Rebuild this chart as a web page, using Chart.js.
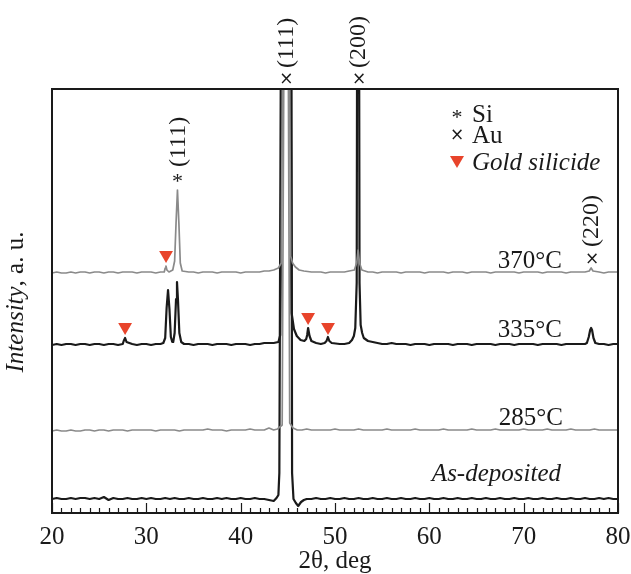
<!DOCTYPE html>
<html>
<head>
<meta charset="utf-8">
<script src="https://cdn.jsdelivr.net/npm/chart.js@4"></script>
<style>
  html, body { margin: 0; padding: 0; background: #fff; }
  canvas { display: block; }
</style>
</head>
<body>
<canvas id="xrdChart" width="631" height="574"></canvas>
<script>
// 2θ axis ticks
const xTicks = [20, 30, 40, 50, 60, 70, 80];

// As-deposited (black, bottom trace)
const angAsDep = [20,20.5,21,21.5,22,22.5,23,23.5,24,24.5,25,25.5,26,26.5,27,27.5,28,28.5,29,29.5,30,30.5,31,31.5,32,32.5,33,33.5,34,34.5,35,35.5,36,36.5,37,37.5,38,38.5,39,39.5,40,40.5,41,41.5,42,42.5,43,43.5,
  43.8,44.0,44.1,44.35,45.35,45.45,45.6,45.85,46.1,46.4,46.7,
  47,47.5,48,48.5,49,49.5,50,50.5,51,51.5,52,52.5,53,53.5,54,54.5,55,55.5,56,56.5,57,57.5,58,58.5,59,59.5,60,60.5,61,61.5,62,62.5,63,63.5,64,64.5,65,65.5,66,66.5,67,67.5,68,68.5,69,69.5,70,70.5,71,71.5,72,72.5,73,73.5,74,74.5,75,75.5,76,76.5,77,77.5,78,78.5,79,79.5,80];
const intAsDep = [14,15,14,14,15,14,15,15,14,15, 14,16,13,15,14,14,15,14,14,15, 14,15,14,14,15,14,15,14,14,15, 14,14,15,14,14,15,14,15,14,14, 15,14,14,15,14,14,13,12,
  15,18,40,700,700,40,14,10,7,11,13,
  14,14,15,14,14,15,14,14,15,14, 14,15,14,14,15,14,14,15,14,14, 15,14,14,15,14,14,15,14,14,15, 14,14,15,14,14,15,14,14,15,14, 14,15,14,14,15,14,14,15,14,14, 15,14,14,15,14,14,15,14,14,15, 14,14,15,14,15,14,14];

// 285°C (gray)
const ang285 = [20,20.5,21,21.5,22,22.5,23,23.5,24,24.5,25,25.5,26,26.5,27,27.5,28,28.5,29,29.5,30,30.5,31,31.5,32,32.5,33,33.5,34,34.5,35,35.5,36,36.5,37,37.5,38,38.5,39,39.5,40,40.5,41,41.5,42,42.5,43,43.5,
  43.9,44.4,44.7,44.95,45.2,45.55,46,
  46.5,47,47.5,48,48.5,49,49.5,50,50.5,51,51.5,52,52.5,53,53.5,54,54.5,55,55.5,56,56.5,57,57.5,58,58.5,59,59.5,60,60.5,61,61.5,62,62.5,63,63.5,64,64.5,65,65.5,66,66.5,67,67.5,68,68.5,69,69.5,70,70.5,71,71.5,72,72.5,73,73.5,74,74.5,75,75.5,76,76.5,77,77.5,78,78.5,79,79.5,80];
const int285 = [82,83,82,82,83,82,82,83,83,82, 83,83,82,83,83,83,82,83,83,83, 83,83,82,83,83,83,83,82,83,83, 83,83,83,84,83,83,83,82,83,83, 83,83,84,83,83,83,85,83,
  84,88,700,700,90,85,83,
  83,84,83,83,83,83,83,84,83,83, 83,83,84,83,83,83,83,83,84,83, 83,83,83,83,84,83,83,83,83,83, 84,83,83,83,83,83,84,83,83,83, 83,84,83,83,83,83,83,84,83,83, 83,83,84,83,83,83,83,84,83,83, 83,83,84,83,83,83,83,83];

// 335°C (black)
const ang335 = [20,20.5,21,21.5,22,22.5,23,23.5,24,24.5,25,25.5,26,26.5,27,27.5,
  27.6,27.75,27.9,
  28.5,29,29.5,30,30.5,31,31.5,
  31.8,32.0,32.15,32.3,32.45,32.6,32.75,32.85,33.0,33.15,33.25,33.35,33.5,33.7,
  34,34.5,35,35.5,36,36.5,37,37.5,38,38.5,39,39.5,40,40.5,41,41.5,42,42.5,43,43.5,
  44.0,44.2,44.5,45.2,45.4,45.65,45.95,46.35,46.75,
  46.95,47.05,47.15,47.3,47.5,
  48,48.5,
  48.9,49.1,49.25,49.4,49.65,
  50.5,51,51.5,
  51.8,52.0,52.15,52.3,52.38,52.52,52.6,52.72,52.88,53.05,
  53.5,54,54.5,55,55.5,56,56.5,57,57.5,58,58.5,59,59.5,60,60.5,61,61.5,62,62.5,63,63.5,64,64.5,65,65.5,66,66.5,67,67.5,68,68.5,69,69.5,70,70.5,71,71.5,72,72.5,73,73.5,74,74.5,75,75.5,76,76.5,
  76.7,76.9,77.05,77.15,77.25,77.4,77.6,
  78,78.5,79,79.5,80];
const int335 = [168,169,168,169,169,168,169,169,168,169,169,168,169,169,168,169,
  172,175,171,
  169,168,169,169,168,169,169,
  170,175,205,223,204,176,171,171,180,214,231,214,180,171,
  169,169,168,169,169,169,168,169,169,169,168,169,169,169,168,169,169,170,170,170,
  171,178,700,700,200,184,177,173,172,
  174,178,185,177,172,
  170,169,
  170,172,176,172,170,
  169,169,170,
  173,177,185,230,700,700,230,188,180,175,
  172,171,170,169,169,170,169,169,169,168, 169,169,169,168,169,169,169,169,168,169, 169,169,168,169,169,169,169,168,169,169, 169,168,169,169,169,169,168,169,169,169, 169,168,169,169,169,169,169,
  170,176,183,185,183,175,170,
  169,169,168,169,169];

// 370°C (gray, top trace)
const ang370 = [20,20.5,21,21.5,22,22.5,23,23.5,24,24.5,25,25.5,26,26.5,27,27.5,28,28.5,29,29.5,30,30.5,31,31.5,
  31.9,32.0,32.08,32.18,32.4,
  32.8,33.0,33.15,33.3,33.45,33.6,33.8,
  34.5,35,35.5,36,36.5,37,37.5,38,38.5,39,39.5,40,40.5,41,41.5,42,42.5,
  43.0,43.5,44.0,44.3,44.6,45.05,45.3,45.5,45.8,46.2,46.7,
  47.5,48,48.5,49,49.5,50,50.5,51,51.5,
  52.05,52.3,52.45,52.6,52.85,
  53.5,54,54.5,55,55.5,56,56.5,57,57.5,58,58.5,59,59.5,60,60.5,61,61.5,62,62.5,63,63.5,64,64.5,65,65.5,66,66.5,67,67.5,68,68.5,69,69.5,70,70.5,71,71.5,72,72.5,73,73.5,74,74.5,75,75.5,76,76.5,
  76.95,77.15,77.35,
  78,78.5,79,79.5,80];
const int370 = [240,241,240,240,241,240,241,241,240,241, 241,240,241,241,240,241,241,241,240,241, 241,241,240,241,
  241,245,247,243,241,
  243,252,290,323,290,250,242,
  241,241,240,241,241,241,240,241,241,241,241,240,241,241,241,241,242,
  242,243,245,250,700,700,257,250,246,243,242,
  241,241,241,240,241,241,241,241,242,
  243,250,263,250,243,
  241,241,240,241,241,241,241,240,241,241, 241,241,240,241,241,241,241,240,241,241, 241,240,241,241,241,241,240,241,241,241, 241,241,240,241,241,241,241,240,241,241, 241,241,240,241,241,241,241,
  242,245,242,
  241,240,241,241,241];

// gold silicide markers (▼)
const silicideAngles = [32.09, 27.75, 47.15, 49.26];
const silicideLevels = [258, 186, 196, 186];

// peak labels
const peakAngles = [44.75, 52.45, 33.3, 77.14];
const peakTexts = ['(111)', '(200)', '(111)', '(220)'];
const peakSymbols = ['×', '×', '*', '×'];

// trace labels
const traceNames = ['370°C', '335°C', '285°C', 'As-deposited'];

const SERIF = '"Liberation Serif", "Times New Roman", serif';
const INK = '#1a1a1a';
const GRAY = '#8a8a8a';
const RED = '#e8442b';

function toPoints(xs, ys) {
    return xs.map((x, i) => ({ x: x, y: ys[i] }));
}

function lineSet(label, xs, ys, color, width) {
    return {
        label: label,
        data: toPoints(xs, ys),
        borderColor: color,
        borderWidth: width,
        pointRadius: 0,
        tension: 0,
        fill: false,
        borderJoinStyle: 'round'
    };
}

function rotatedText(ctx, text, px, yBottom) {
    ctx.save();
    ctx.translate(px, yBottom);
    ctx.rotate(-Math.PI / 2);
    ctx.textAlign = 'left';
    ctx.textBaseline = 'middle';
    ctx.fillText(text, 0, 0);
    ctx.restore();
}

const overlay = {
    id: 'overlay',
    afterDraw(chart) {
        const ctx = chart.ctx;
        const a = chart.chartArea;
        const x = chart.scales.x;
        ctx.save();

        // frame
        ctx.strokeStyle = INK;
        ctx.lineWidth = 2;
        ctx.strokeRect(a.left, a.top, a.right - a.left, a.bottom - a.top);

        // inward ticks, major every 10, minor every 1
        ctx.lineWidth = 1.2;
        for (let v = xTicks[0]; v <= xTicks[xTicks.length - 1]; v++) {
            const px = Math.round(x.getPixelForValue(v)) + 0.5;
            const len = xTicks.includes(v) ? 10 : 5;
            ctx.beginPath();
            ctx.moveTo(px, a.bottom);
            ctx.lineTo(px, a.bottom - len);
            ctx.stroke();
        }

        ctx.fillStyle = INK;

        // x title
        ctx.textAlign = 'center';
        ctx.textBaseline = 'middle';
        ctx.font = '25px ' + SERIF;
        ctx.fillText('2θ, deg', (a.left + a.right) / 2, 561);

        // peak labels
        const labelBottoms = [68, 68, 167, 247];
        const symbolYs = [80, 80, 182, 260];
        ctx.font = '24px ' + SERIF;
        peakAngles.forEach((ang, i) => {
            const px = x.getPixelForValue(ang);
            rotatedText(ctx, peakTexts[i], px + 1, labelBottoms[i]);
            ctx.textAlign = 'center';
            ctx.textBaseline = 'middle';
            if (peakSymbols[i] === '*') {
                ctx.font = '22px ' + SERIF;
                ctx.fillText('*', px, symbolYs[i]);
            } else {
                ctx.font = '17px "DejaVu Sans", sans-serif';
                ctx.fillText('×', px + 1, symbolYs[i]);
            }
            ctx.font = '24px ' + SERIF;
        });

        // trace labels
        ctx.textAlign = 'right';
        ctx.textBaseline = 'alphabetic';
        ctx.font = '25px ' + SERIF;
        ctx.fillText(traceNames[0], 562, 268);
        ctx.fillText(traceNames[1], 562, 337);
        ctx.fillText(traceNames[2], 563, 425);
        ctx.font = 'italic 25px ' + SERIF;
        ctx.fillText(traceNames[3], 561, 481);

        // legend
        ctx.textAlign = 'left';
        ctx.font = '25px ' + SERIF;
        ctx.fillText('Si', 472, 122);
        ctx.fillText('Au', 472, 143);
        ctx.font = 'italic 25px ' + SERIF;
        ctx.fillText('Gold silicide', 472, 170);
        ctx.textAlign = 'center';
        ctx.textBaseline = 'middle';
        ctx.font = '22px ' + SERIF;
        ctx.fillText('*', 457, 118);
        ctx.font = '17px "DejaVu Sans", sans-serif';
        ctx.fillText('×', 457, 136);
        ctx.fillStyle = RED;
        ctx.beginPath();
        ctx.moveTo(450, 156);
        ctx.lineTo(464, 156);
        ctx.lineTo(457, 168);
        ctx.closePath();
        ctx.fill();

        // y title: "Intensity" italic + ", a. u."
        ctx.fillStyle = INK;
        ctx.save();
        ctx.translate(16, 302);
        ctx.rotate(-Math.PI / 2);
        ctx.textBaseline = 'middle';
        ctx.textAlign = 'left';
        ctx.font = 'italic 25px ' + SERIF;
        const w1 = ctx.measureText('Intensity').width;
        ctx.font = '25px ' + SERIF;
        const w2 = ctx.measureText(', a. u.').width;
        const start = -(w1 + w2) / 2;
        ctx.font = 'italic 25px ' + SERIF;
        ctx.fillText('Intensity', start, 0);
        ctx.font = '25px ' + SERIF;
        ctx.fillText(', a. u.', start + w1, 0);
        ctx.restore();

        ctx.restore();
    }
};

new Chart(document.getElementById('xrdChart'), {
    type: 'line',
    data: {
        datasets: [
            lineSet(traceNames[0], ang370, int370, GRAY, 1.7),
            lineSet(traceNames[2], ang285, int285, GRAY, 1.7),
            lineSet(traceNames[1], ang335, int335, INK, 2.2),
            lineSet(traceNames[3], angAsDep, intAsDep, INK, 2.2),
            {
                type: 'scatter',
                label: 'Gold silicide',
                data: toPoints(silicideAngles, silicideLevels),
                pointStyle: 'triangle',
                rotation: 180,
                pointRadius: 8,
                backgroundColor: RED,
                borderWidth: 0,
                showLine: false
            }
        ]
    },
    options: {
        responsive: false,
        animation: false,
        layout: { padding: { left: 52, right: 13, top: 89, bottom: 0 } },
        plugins: {
            legend: { display: false },
            tooltip: { enabled: false }
        },
        scales: {
            x: {
                type: 'linear',
                min: 20,
                max: 80,
                grid: { display: false, drawTicks: false },
                border: { display: false },
                afterBuildTicks: (scale) => {
                    scale.ticks = xTicks.map(v => ({ value: v }));
                },
                afterFit: (scale) => {
                    // fixed axis band below the plot frame
                    scale.height = 61;
                    scale.paddingLeft = 0;
                    scale.paddingRight = 0;
                },
                ticks: {
                    color: INK,
                    padding: 9,
                    maxRotation: 0,
                    autoSkip: false,
                    font: { family: SERIF, size: 25 }
                }
            },
            y: {
                type: 'linear',
                display: false,
                min: 0,
                max: 424
            }
        }
    },
    plugins: [overlay]
});
</script>
</body>
</html>
